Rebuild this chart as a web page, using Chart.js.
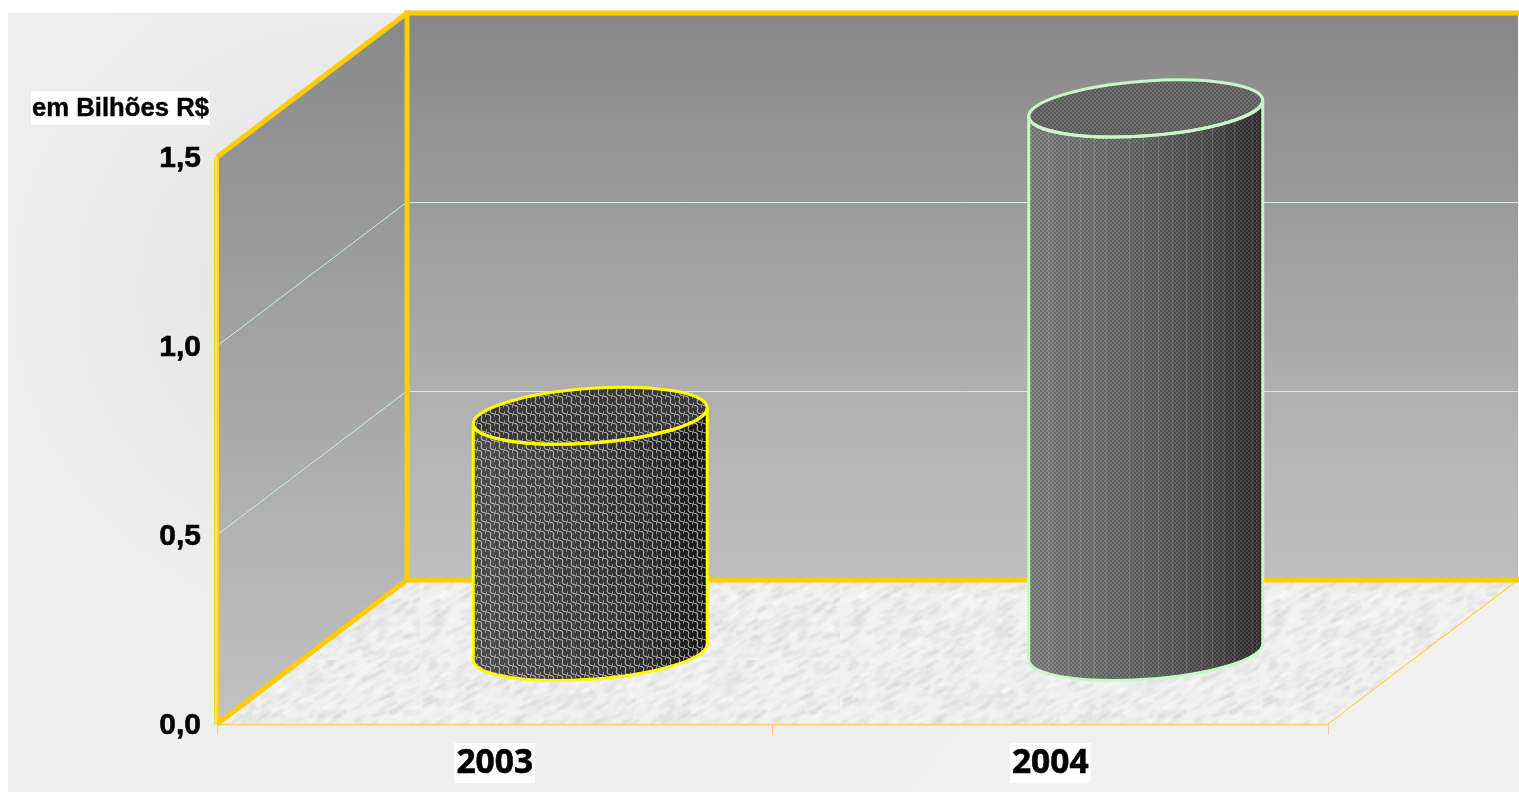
<!DOCTYPE html>
<html>
<head>
<meta charset="utf-8">
<title>em Bilhões R$</title>
<script src="https://cdn.jsdelivr.net/npm/chart.js@4/dist/chart.umd.min.js"></script>
<style>
  html,body{margin:0;padding:0;background:#fff;overflow:hidden}
  canvas{display:block}
</style>
</head>
<body>
<canvas id="chart" width="1519" height="792"></canvas>
<script>
// chart data
const anos = ['2003','2004'];
const valores = [0.625,1.438];
const marcasY = [0,0.5,1,1.5];
const unidade = 'em Bilhões R$';

// 3D projection: how far the back wall sits from the front plane
const DEPTH_X = 190, DEPTH_Y = -144;
const GOLD = '#ffcc00', GRID = '#c4f2ee';

// cylinder styles, one per category
const cilindros = [
  {stroke:'#ffff00', stops:['#4a4a4a','#3a3a3a','#2c2c2c','#141414'], top:'#363636', pattern:weave},
  {stroke:'#c8f8c8', stops:['#7a7a7a','#616161','#4a4a4a','#282828'], top:'#606060', pattern:dots}
];
// facet seams along the cylinder body, as a fraction of its width
const facetas = [.085,.17,.22,.28,.33,.43,.49,.555,.615,.675,.74,.785,.835,.88,.955,.975];

function tile(w,h,draw){
  const c = document.createElement('canvas');
  c.width = w; c.height = h;
  draw(c.getContext('2d'));
  return c;
}

// chain-link texture of the darker cylinder
function weave(ctx){
  const t = tile(9,9,g=>{
    g.strokeStyle = 'rgba(225,225,225,.72)';
    g.lineWidth = 1.1;
    [[0,0],[-9,-9],[9,9],[-4.5,4.5],[4.5,-4.5],[-13.5,-4.5],[13.5,4.5]].forEach(p=>{
      g.beginPath();
      g.moveTo(p[0],p[1]);
      g.quadraticCurveTo(p[0]+6,p[1]+.5,p[0]+4.5,p[1]+4.5);
      g.quadraticCurveTo(p[0]+3,p[1]+8.5,p[0]+9,p[1]+9);
      g.stroke();
    });
  });
  return ctx.createPattern(t,'repeat');
}

// fine dot screen of the lighter cylinder
function dots(ctx){
  const t = tile(4,4,g=>{
    g.fillStyle = 'rgba(255,255,255,.1)';
    g.fillRect(0,0,2,2);
    g.fillRect(2,2,2,2);
    g.fillStyle = 'rgba(0,0,0,.07)';
    g.fillRect(2,0,2,2);
    g.fillRect(0,2,2,2);
  });
  return ctx.createPattern(t,'repeat');
}

// marble-like floor, short slanted strokes from a small hash
function floorTexture(ctx){
  let seed = 7;
  const next = ()=>{ seed = (seed*16807)%2147483647; return seed/2147483647; };
  const t = tile(420,220,g=>{
    g.fillStyle = '#f2f2f2';
    g.fillRect(0,0,420,220);
    g.filter = 'blur(.8px)';
    g.lineCap = 'round';
    for(let i=0;i<3800;i++){
      const x = next()*420, y = next()*220, len = 3+next()*9, v = 208+next()*47;
      g.strokeStyle = `rgba(${v},${v},${v},.7)`;
      g.lineWidth = 1+next()*2;
      g.beginPath();
      g.moveTo(x,y);
      g.lineTo(x+len,y-len*.55);
      g.stroke();
    }
  });
  return ctx.createPattern(t,'repeat');
}

function poly(ctx,pts){
  ctx.beginPath();
  pts.forEach((p,i)=> i ? ctx.lineTo(p[0],p[1]) : ctx.moveTo(p[0],p[1]));
  ctx.closePath();
}
function seg(ctx,x1,y1,x2,y2,color,w){
  ctx.strokeStyle = color;
  ctx.lineWidth = w;
  ctx.beginPath();
  ctx.moveTo(x1,y1);
  ctx.lineTo(x2,y2);
  ctx.stroke();
}

/* ========== panel, walls and floor ========== */
const room = {
  id:'room',
  beforeDraw(chart){
    const ctx = chart.ctx;
    const bg = ctx.createRadialGradient(340,290,40,340,290,1000);
    bg.addColorStop(0,'#e6e6e6');
    bg.addColorStop(.35,'#eeeeee');
    bg.addColorStop(1,'#f1f1f1');
    ctx.fillStyle = bg;
    ctx.fillRect(8,13,1511,779);
  },
  beforeDatasetsDraw(chart){
    const ctx = chart.ctx, xs = chart.scales.x, ys = chart.scales.y;
    const l = xs.left, r = xs.right, y0 = ys.getPixelForValue(0), y1 = ys.getPixelForValue(1.5);
    const bl = l+DEPTH_X, br = r+DEPTH_X, by0 = y0+DEPTH_Y, by1 = y1+DEPTH_Y;
    ctx.save();

    let g = ctx.createLinearGradient(0,by1,0,by0);
    g.addColorStop(0,'#878787');
    g.addColorStop(.5,'#a5a5a5');
    g.addColorStop(.85,'#bababa');
    g.addColorStop(1,'#bebebe');
    ctx.fillStyle = g;
    ctx.fillRect(bl,by1,br-bl,by0-by1);

    g = ctx.createLinearGradient(0,by1,0,y0);
    g.addColorStop(0,'#888888');
    g.addColorStop(1,'#c2c2c2');
    ctx.fillStyle = g;
    poly(ctx,[[l,y1],[bl,by1],[bl,by0],[l,y0]]);
    ctx.fill();

    ctx.fillStyle = floorTexture(ctx);
    poly(ctx,[[l,y0],[bl,by0],[br,by0],[r,y0]]);
    ctx.fill();

    // gridlines run along the side wall and across the back
    marcasY.slice(1,-1).forEach(v=>{
      const y = ys.getPixelForValue(v);
      seg(ctx,l,y,bl,y+DEPTH_Y,GRID,1);
      seg(ctx,bl,y+DEPTH_Y+.5,br,y+DEPTH_Y+.5,GRID,1);
    });

    seg(ctx,r,y0,br,by0,GOLD,1);
    seg(ctx,l,y0+.5,r,y0+.5,'#ffc870',1.5);

    ctx.lineCap = 'square';
    seg(ctx,bl,by0,br,by0,GOLD,5);
    seg(ctx,bl,by1,br,by1,GOLD,5);
    seg(ctx,bl,by1,bl,by0,GOLD,5);
    ctx.lineCap = 'butt';
    seg(ctx,l,y1,bl,by1,GOLD,5);
    seg(ctx,l,y0,bl,by0,GOLD,5);
    seg(ctx,l-.5,y1,l-.5,y0,'#ffd21e',5);
    seg(ctx,l-1,y1,l-1,y0,'#fff2a0',1);
    ctx.restore();

    // unit label over the axis
    ctx.save();
    ctx.fillStyle = '#fff';
    ctx.fillRect(31,91,179,34);
    ctx.fillStyle = '#000';
    ctx.strokeStyle = '#000';
    ctx.lineWidth = .4;
    ctx.font = 'bold 25.7px "Liberation Sans", Arial, sans-serif';
    ctx.textBaseline = 'middle';
    ctx.fillText(unidade,32,109);
    ctx.strokeText(unidade,32,109);
    ctx.restore();
  }
};

/* ========== cylinders, placed from the bar elements ========== */
const cylinderBars = {
  id:'cylinderBars',
  afterDatasetsDraw(chart){
    const ctx = chart.ctx, ys = chart.scales.y;
    const TILT = -4.13*Math.PI/180;
    chart.getDatasetMeta(0).data.forEach((bar,i)=>{
      const st = cilindros[i];
      const cx = bar.x+DEPTH_X/2+.5;
      const topY = bar.y+DEPTH_Y/2, baseY = ys.getPixelForValue(0)+DEPTH_Y/2;
      const a = bar.width/2*1.0026, b = a*.2327;
      const t0 = Math.atan2(-b*Math.sin(TILT),a*Math.cos(TILT));
      const hw = bar.width/2, lift = 8;
      const left = cx-hw, right = cx+hw;

      const body = ()=>{
        ctx.beginPath();
        ctx.moveTo(left,topY+lift);
        ctx.lineTo(left,baseY+lift);
        ctx.ellipse(cx,baseY,a,b,TILT,t0+Math.PI,t0,true);
        ctx.lineTo(right,topY-lift);
        ctx.ellipse(cx,topY,a,b,TILT,t0,t0+Math.PI,false);
        ctx.closePath();
      };

      ctx.save();
      body();
      const g = ctx.createLinearGradient(left,0,right,0);
      g.addColorStop(0,st.stops[0]);
      g.addColorStop(.45,st.stops[1]);
      g.addColorStop(.75,st.stops[2]);
      g.addColorStop(1,st.stops[3]);
      ctx.fillStyle = g;
      ctx.fill();
      ctx.fillStyle = st.pattern(ctx);
      ctx.fill();
      ctx.clip();
      facetas.forEach(f=> seg(ctx,left+f*bar.width,topY-40,left+f*bar.width,baseY+40,'rgba(255,255,255,.13)',1));
      ctx.restore();

      ctx.save();
      ctx.beginPath();
      ctx.ellipse(cx,topY,a,b,TILT,0,Math.PI*2);
      ctx.fillStyle = st.top;
      ctx.fill();
      ctx.fillStyle = st.pattern(ctx);
      ctx.fill();
      ctx.restore();

      ctx.save();
      ctx.strokeStyle = st.stroke;
      ctx.lineWidth = 3;
      ctx.lineJoin = 'round';
      body();
      ctx.stroke();
      ctx.beginPath();
      ctx.ellipse(cx,topY,a,b,TILT,0,Math.PI*2);
      ctx.stroke();
      ctx.restore();
    });
  }
};

new Chart(document.getElementById('chart'),{
  type:'bar',
  data:{
    labels:anos,
    datasets:[{data:valores,backgroundColor:'rgba(0,0,0,0)',borderWidth:0,categoryPercentage:1,barPercentage:.4212}]
  },
  options:{
    responsive:false,
    animation:false,
    layout:{padding:{top:157,right:191,left:0,bottom:0}},
    plugins:{legend:{display:false},title:{display:false},tooltip:{enabled:false}},
    scales:{
      x:{
        afterFit(s){ s.height = 68; },
        border:{display:false},
        grid:{drawOnChartArea:false,color:'#ffc88a',tickLength:11,offset:true},
        ticks:{
          padding:8,
          color:'#000',
          textStrokeColor:'#000',
          textStrokeWidth:.6,
          font:{family:'"Open Sans"',weight:'bold',size:33.5},
          showLabelBackdrop:true,
          backdropColor:'#fff',
          backdropPadding:{top:0,bottom:0,left:2,right:2},
          maxRotation:0
        }
      },
      y:{
        min:0,max:1.5,
        afterFit(s){ s.width = 217; },
        afterBuildTicks(s){ s.ticks = marcasY.map(v=>({value:v})); },
        border:{display:false},
        grid:{drawOnChartArea:false,color:GRID,tickLength:6},
        ticks:{
          padding:10,
          labelOffset:2,
          color:'#000',
          textStrokeColor:'#000',
          textStrokeWidth:.6,
          font:{family:'"Liberation Sans"',weight:'bold',size:30},
          callback:v=> v.toFixed(1).replace('.',',')
        }
      }
    }
  },
  plugins:[room,cylinderBars]
});
</script>
</body>
</html>
